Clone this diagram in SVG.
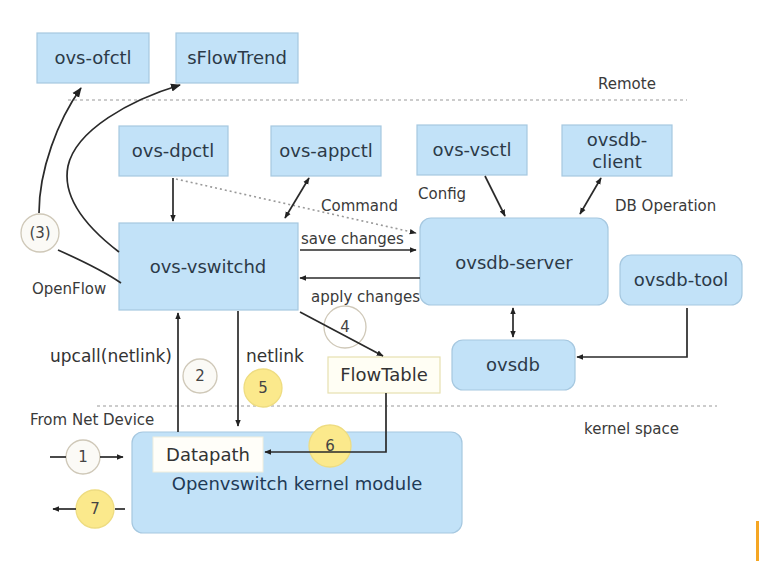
<svg xmlns="http://www.w3.org/2000/svg" width="759" height="571" viewBox="0 0 759 571">
<defs>
<style>
.box{fill:#c2e2f8;stroke:#a6c8e0;stroke-width:1.2}
.lbl{font-family:"DejaVu Sans",sans-serif;font-size:18px;fill:#2c3a48;text-anchor:middle}
.sm{font-family:"DejaVu Sans",sans-serif;font-size:15px;fill:#3a3a3a}
.md{font-family:"DejaVu Sans",sans-serif;font-size:17px;fill:#333}
.num{font-family:"DejaVu Sans",sans-serif;font-size:15px;fill:#444;text-anchor:middle}
.wc{fill:#fbfaf6;stroke:#cfc8b8;stroke-width:1.3}
.yc{fill:#fbe98c;stroke:#eedc80;stroke-width:1.3}
.ln{fill:none;stroke:#2a2a2a;stroke-width:1.7}
.sep{stroke:#999;stroke-width:1;stroke-dasharray:3,3}
</style>
<marker id="ah" viewBox="0 0 10 10" refX="9" refY="5" markerWidth="7" markerHeight="7" orient="auto-start-reverse" markerUnits="userSpaceOnUse">
<path d="M0,1 L10,5 L0,9 z" fill="#222"/>
</marker>
<marker id="ahs" viewBox="0 0 10 10" refX="9" refY="5" markerWidth="10" markerHeight="10" orient="auto-start-reverse" markerUnits="userSpaceOnUse">
<path d="M0,1 L10,5 L0,9 z" fill="#222"/>
</marker>
</defs>
<rect width="759" height="571" fill="#ffffff"/>

<g id="separators">
<line class="sep" x1="68" y1="100" x2="687" y2="100"/>
<text class="sm" x="598" y="89">Remote</text>
<line class="sep" x1="97" y1="406" x2="717" y2="406"/>
<text class="sm" x="584" y="434">kernel space</text>
</g>

<g id="labels">
<text class="sm" x="321" y="211">Command</text>
<text class="sm" x="418" y="199">Config</text>
<text class="sm" x="615" y="211">DB Operation</text>
<text class="sm" x="301" y="244">save changes</text>
<text class="sm" x="311" y="302">apply changes</text>
<text class="sm" x="32" y="294">OpenFlow</text>
<text class="md" x="50" y="362">upcall(netlink)</text>
<text class="md" x="246" y="362">netlink</text>
<text class="sm" x="30" y="425">From Net Device</text>
</g>

<g id="ovs-ofctl"><rect class="box" x="37" y="33" width="112" height="50"/><text class="lbl" x="93" y="64">ovs-ofctl</text></g>
<g id="sFlowTrend"><rect class="box" x="176" y="33" width="122" height="50"/><text class="lbl" x="237" y="64">sFlowTrend</text></g>
<g id="ovs-dpctl"><rect class="box" x="119" y="126" width="109" height="50"/><text class="lbl" x="173" y="157">ovs-dpctl</text></g>
<g id="ovs-appctl"><rect class="box" x="271" y="126" width="110" height="50"/><text class="lbl" x="326" y="157">ovs-appctl</text></g>
<g id="ovs-vsctl"><rect class="box" x="417" y="125" width="110" height="50"/><text class="lbl" x="472" y="156">ovs-vsctl</text></g>
<g id="ovsdb-client"><rect class="box" x="562" y="125" width="110" height="51"/><text class="lbl" x="617" y="146">ovsdb-</text><text class="lbl" x="617" y="168">client</text></g>
<g id="ovs-vswitchd"><rect class="box" x="119" y="223" width="179" height="87"/><text class="lbl" x="208" y="273">ovs-vswitchd</text></g>
<g id="ovsdb-server"><rect class="box" x="420" y="218" width="188" height="87" rx="11"/><text class="lbl" x="514" y="269">ovsdb-server</text></g>
<g id="ovsdb-tool"><rect class="box" x="620" y="255" width="122" height="50" rx="11"/><text class="lbl" x="681" y="286">ovsdb-tool</text></g>
<g id="ovsdb"><rect class="box" x="452" y="340" width="123" height="50" rx="11"/><text class="lbl" x="513" y="371">ovsdb</text></g>
<g id="FlowTable"><rect x="328" y="357" width="112" height="36" fill="#fffef4" stroke="#e6dfb0" stroke-width="1.2"/><text class="lbl" x="384" y="381" style="fill:#333">FlowTable</text></g>
<g id="kernel-module"><rect class="box" x="132" y="432" width="330" height="101" rx="11"/><text class="lbl" x="297" y="490" style="fill:#1e3a56">Openvswitch kernel module</text></g>
<g id="Datapath"><rect x="153" y="437" width="110" height="35" fill="#fffef9" stroke="#f0eedd" stroke-width="1"/><text class="lbl" x="208" y="461" style="fill:#333">Datapath</text></g>

<g id="circle-3"><circle class="wc" cx="40" cy="233" r="19"/><text class="num" x="40" y="238">(3)</text></g>
<g id="circle-1"><circle class="wc" cx="83" cy="457" r="17"/><text class="num" x="83" y="462">1</text></g>
<g id="circle-7"><circle class="yc" cx="95" cy="509" r="19"/><text class="num" x="95" y="514">7</text></g>
<g id="circle-2"><circle class="wc" cx="200" cy="376" r="17"/><text class="num" x="200" y="381">2</text></g>
<g id="circle-5"><circle class="yc" cx="263" cy="388" r="19"/><text class="num" x="263" y="393">5</text></g>
<g id="circle-4"><circle class="wc" cx="345" cy="327" r="21" style="fill:none"/><text class="num" x="345" y="332">4</text></g>
<g id="circle-6"><circle class="yc" cx="330" cy="446" r="21"/><text class="num" x="330" y="451">6</text></g>

<g id="connectors">
<path class="ln" d="M39,213 C39,170 58,120 81,88" marker-end="url(#ahs)"/>
<path class="ln" d="M119,252 C85,226 62,196 68,166 C76,130 130,100 180,85" marker-end="url(#ahs)"/>
<path class="ln" d="M58,250 C85,262 105,272 121,283"/>
<line class="ln" x1="173" y1="178" x2="173" y2="221" marker-end="url(#ah)"/>
<path d="M176,179 L416,233" fill="none" stroke="#999" stroke-width="1.6" stroke-dasharray="2,3" marker-end="url(#ah)"/>
<line class="ln" x1="309" y1="178" x2="285" y2="218" marker-start="url(#ah)" marker-end="url(#ah)"/>
<line class="ln" x1="300" y1="250" x2="416" y2="250" marker-end="url(#ah)"/>
<line class="ln" x1="420" y1="278" x2="300" y2="278" marker-end="url(#ah)"/>
<line class="ln" x1="300" y1="312" x2="383" y2="356" marker-end="url(#ah)"/>
<line class="ln" x1="485" y1="176" x2="505" y2="216" marker-end="url(#ah)"/>
<line class="ln" x1="601" y1="178" x2="580" y2="214" marker-start="url(#ah)" marker-end="url(#ah)"/>
<line class="ln" x1="513" y1="308" x2="513" y2="337" marker-start="url(#ah)" marker-end="url(#ah)"/>
<path class="ln" d="M687,308 L687,357 L577,357" marker-end="url(#ah)"/>
<path class="ln" d="M386,393 L386,452 L265,452" marker-end="url(#ah)"/>
<line class="ln" x1="178" y1="432" x2="178" y2="313" marker-end="url(#ah)"/>
<line class="ln" x1="238" y1="311" x2="238" y2="426" marker-end="url(#ah)"/>
<line class="ln" x1="50" y1="457" x2="66" y2="457"/>
<line class="ln" x1="100" y1="457" x2="123" y2="457" marker-end="url(#ah)"/>
<line class="ln" x1="125" y1="509" x2="115" y2="509"/>
<line class="ln" x1="76" y1="509" x2="53" y2="509" marker-end="url(#ah)"/>
</g>

<rect x="756" y="521" width="3" height="40" fill="#f5a623"/>
</svg>
